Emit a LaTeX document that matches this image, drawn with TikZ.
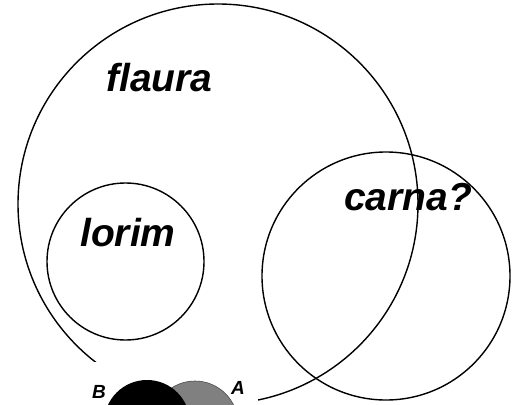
\documentclass[tikz,border=0pt]{standalone}
\usepackage{fontspec}
\setmainfont{Liberation Sans}
\begin{document}
\begin{tikzpicture}[x=1pt,y=-1pt,
  ring/.style={draw=black,line width=1.4pt,circle,inner sep=0pt},
  big/.style={font=\fontsize{39}{41}\selectfont\bfseries\itshape,anchor=base west,inner sep=0pt},
  small/.style={font=\fontsize{19}{21}\selectfont\bfseries\itshape,anchor=base west,inner sep=0pt}]
\useasboundingbox (0,0) rectangle (519,404);
\node[ring,minimum size=400pt] (flora) at (218,204) {};
\node[ring,minimum size=157pt] (lorimc) at (125.5,261.5) {};
\node[ring,minimum size=248pt] (carnac) at (386,276) {};
\fill[white] (90,361.5) rectangle (258,410);
\node[circle,fill=black!50,draw=black!70,line width=0.6pt,minimum size=86pt,inner sep=0pt] (ca) at (195,424) {};
\node[circle,fill=black,minimum size=86pt,inner sep=0pt] (cb) at (147,423) {};
\node[big] (t1) at (106,92) {flaura};
\node[big] (t2) at (80,246) {lorim};
\node[big] (t3) at (344,210) {carna?};
\node[small] (tb) at (92,398) {B};
\node[small] (ta) at (231,394) {A};
\end{tikzpicture}
\end{document}
